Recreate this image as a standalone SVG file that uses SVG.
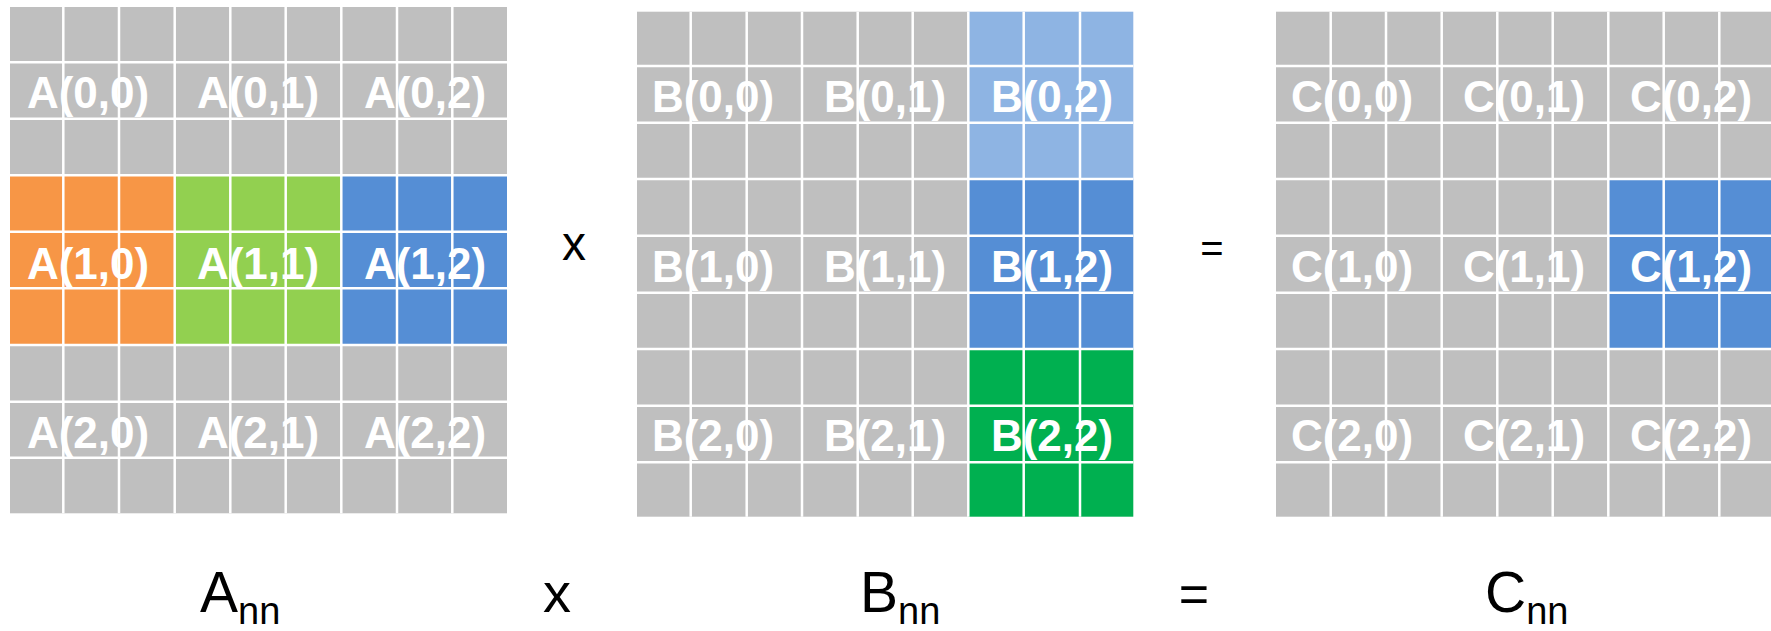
<svg xmlns="http://www.w3.org/2000/svg" width="1771" height="631" viewBox="0 0 1771 631">
<style>
.g{fill:#BFBFBF}
.or{fill:#F79646}
.lg{fill:#92D050}
.bl{fill:#558ED5}
.lb{fill:#8EB4E3}
.gr{fill:#00B050}
.lbl{font-family:"Liberation Sans",Arial,sans-serif;font-weight:bold;font-size:44px;fill:#FFFFFF;text-anchor:middle}
.grid line{stroke:#FFFFFF;stroke-width:2.5}
.cap{font-family:"Liberation Sans",Arial,sans-serif;font-size:57px;fill:#000000}
.op{font-family:"Liberation Sans",Arial,sans-serif;fill:#000000;text-anchor:middle}
</style>
<rect width="1771" height="631" fill="#FFFFFF"/>

<!-- Matrix A -->
<g id="matrixA">
<g id="A00"><rect class="g" x="10" y="7" width="164.7" height="168.3"/><text class="lbl" x="88" y="108">A(0,0)</text></g>
<g id="A01"><rect class="g" x="174.7" y="7" width="166.6" height="168.3"/><text class="lbl" x="258" y="108">A(0,1)</text></g>
<g id="A02"><rect class="g" x="341.3" y="7" width="165.7" height="168.3"/><text class="lbl" x="425" y="108">A(0,2)</text></g>
<g id="A10"><rect class="or" x="10" y="175.3" width="164.7" height="169.7"/><text class="lbl" x="88" y="279">A(1,0)</text></g>
<g id="A11"><rect class="lg" x="174.7" y="175.3" width="166.6" height="169.7"/><text class="lbl" x="258" y="279">A(1,1)</text></g>
<g id="A12"><rect class="bl" x="341.3" y="175.3" width="165.7" height="169.7"/><text class="lbl" x="425" y="279">A(1,2)</text></g>
<g id="A20"><rect class="g" x="10" y="345" width="164.7" height="168.3"/><text class="lbl" x="88" y="448">A(2,0)</text></g>
<g id="A21"><rect class="g" x="174.7" y="345" width="166.6" height="168.3"/><text class="lbl" x="258" y="448">A(2,1)</text></g>
<g id="A22"><rect class="g" x="341.3" y="345" width="165.7" height="168.3"/><text class="lbl" x="425" y="448">A(2,2)</text></g>
</g>

<!-- Matrix B -->
<g id="matrixB">
<g id="B00"><rect class="g" x="637" y="11.7" width="165" height="167.3"/><text class="lbl" x="713" y="112">B(0,0)</text></g>
<g id="B01"><rect class="g" x="802" y="11.7" width="166.3" height="167.3"/><text class="lbl" x="885" y="112">B(0,1)</text></g>
<g id="B02"><rect class="lb" x="968.3" y="11.7" width="165" height="167.3"/><text class="lbl" x="1052" y="112">B(0,2)</text></g>
<g id="B10"><rect class="g" x="637" y="179" width="165" height="170"/><text class="lbl" x="713" y="282">B(1,0)</text></g>
<g id="B11"><rect class="g" x="802" y="179" width="166.3" height="170"/><text class="lbl" x="885" y="282">B(1,1)</text></g>
<g id="B12"><rect class="bl" x="968.3" y="179" width="165" height="170"/><text class="lbl" x="1052" y="282">B(1,2)</text></g>
<g id="B20"><rect class="g" x="637" y="349" width="165" height="167.7"/><text class="lbl" x="713" y="451">B(2,0)</text></g>
<g id="B21"><rect class="g" x="802" y="349" width="166.3" height="167.7"/><text class="lbl" x="885" y="451">B(2,1)</text></g>
<g id="B22"><rect class="gr" x="968.3" y="349" width="165" height="167.7"/><text class="lbl" x="1052" y="451">B(2,2)</text></g>
</g>

<!-- Matrix C -->
<g id="matrixC">
<g id="C00"><rect class="g" x="1276" y="11.7" width="165.7" height="167.3"/><text class="lbl" x="1352" y="112">C(0,0)</text></g>
<g id="C01"><rect class="g" x="1441.7" y="11.7" width="166.6" height="167.3"/><text class="lbl" x="1524" y="112">C(0,1)</text></g>
<g id="C02"><rect class="g" x="1608.3" y="11.7" width="166" height="167.3"/><text class="lbl" x="1691" y="112">C(0,2)</text></g>
<g id="C10"><rect class="g" x="1276" y="179" width="165.7" height="170"/><text class="lbl" x="1352" y="282">C(1,0)</text></g>
<g id="C11"><rect class="g" x="1441.7" y="179" width="166.6" height="170"/><text class="lbl" x="1524" y="282">C(1,1)</text></g>
<g id="C12"><rect class="bl" x="1608.3" y="179" width="166" height="170"/><text class="lbl" x="1691" y="282">C(1,2)</text></g>
<g id="C20"><rect class="g" x="1276" y="349" width="165.7" height="167.7"/><text class="lbl" x="1352" y="451">C(2,0)</text></g>
<g id="C21"><rect class="g" x="1441.7" y="349" width="166.6" height="167.7"/><text class="lbl" x="1524" y="451">C(2,1)</text></g>
<g id="C22"><rect class="g" x="1608.3" y="349" width="166" height="167.7"/><text class="lbl" x="1691" y="451">C(2,2)</text></g>
</g>

<!-- white grid lines -->
<g id="connectors" class="grid">
<g id="gridA">
<line x1="63.3" y1="7" x2="63.3" y2="513.3"/><line x1="119" y1="7" x2="119" y2="513.3"/><line x1="174.7" y1="7" x2="174.7" y2="513.3"/><line x1="230.3" y1="7" x2="230.3" y2="513.3"/><line x1="285.7" y1="7" x2="285.7" y2="513.3"/><line x1="341.3" y1="7" x2="341.3" y2="513.3"/><line x1="397" y1="7" x2="397" y2="513.3"/><line x1="452.3" y1="7" x2="452.3" y2="513.3"/>
<line x1="10" y1="62.3" x2="507" y2="62.3"/><line x1="10" y1="118.7" x2="507" y2="118.7"/><line x1="10" y1="175.3" x2="507" y2="175.3"/><line x1="10" y1="231.7" x2="507" y2="231.7"/><line x1="10" y1="288.3" x2="507" y2="288.3"/><line x1="10" y1="345" x2="507" y2="345"/><line x1="10" y1="401.7" x2="507" y2="401.7"/><line x1="10" y1="457.7" x2="507" y2="457.7"/>
</g>
<g id="gridB">
<line x1="690.7" y1="11.7" x2="690.7" y2="516.7"/><line x1="746.7" y1="11.7" x2="746.7" y2="516.7"/><line x1="802" y1="11.7" x2="802" y2="516.7"/><line x1="857.7" y1="11.7" x2="857.7" y2="516.7"/><line x1="912.7" y1="11.7" x2="912.7" y2="516.7"/><line x1="968.3" y1="11.7" x2="968.3" y2="516.7"/><line x1="1023.7" y1="11.7" x2="1023.7" y2="516.7"/><line x1="1080" y1="11.7" x2="1080" y2="516.7"/>
<line x1="637" y1="66" x2="1133.3" y2="66"/><line x1="637" y1="122.7" x2="1133.3" y2="122.7"/><line x1="637" y1="179" x2="1133.3" y2="179"/><line x1="637" y1="235.7" x2="1133.3" y2="235.7"/><line x1="637" y1="292.7" x2="1133.3" y2="292.7"/><line x1="637" y1="349" x2="1133.3" y2="349"/><line x1="637" y1="405.7" x2="1133.3" y2="405.7"/><line x1="637" y1="462.3" x2="1133.3" y2="462.3"/>
</g>
<g id="gridC">
<line x1="1330.7" y1="11.7" x2="1330.7" y2="516.7"/><line x1="1386" y1="11.7" x2="1386" y2="516.7"/><line x1="1441.7" y1="11.7" x2="1441.7" y2="516.7"/><line x1="1497.3" y1="11.7" x2="1497.3" y2="516.7"/><line x1="1552.7" y1="11.7" x2="1552.7" y2="516.7"/><line x1="1608.3" y1="11.7" x2="1608.3" y2="516.7"/><line x1="1663.7" y1="11.7" x2="1663.7" y2="516.7"/><line x1="1719.3" y1="11.7" x2="1719.3" y2="516.7"/>
<line x1="1276" y1="66" x2="1771" y2="66"/><line x1="1276" y1="122.7" x2="1771" y2="122.7"/><line x1="1276" y1="179" x2="1771" y2="179"/><line x1="1276" y1="235.7" x2="1771" y2="235.7"/><line x1="1276" y1="292.7" x2="1771" y2="292.7"/><line x1="1276" y1="349" x2="1771" y2="349"/><line x1="1276" y1="405.7" x2="1771" y2="405.7"/><line x1="1276" y1="462.3" x2="1771" y2="462.3"/>
</g>
</g>

<!-- operators between matrices -->
<g id="opX"><text class="op" x="574" y="260" font-size="48">x</text></g>
<g id="opEq"><text class="op" x="1212" y="262" font-size="40">=</text></g>

<!-- captions -->
<g id="capA"><text class="cap" x="200" y="612">A<tspan font-size="38" dy="12">nn</tspan></text></g>
<g id="capX"><text class="op" x="557" y="612" font-size="56">x</text></g>
<g id="capB"><text class="cap" x="860" y="612">B<tspan font-size="38" dy="12">nn</tspan></text></g>
<g id="capEq"><text class="op" x="1194" y="612" font-size="52">=</text></g>
<g id="capC"><text class="cap" x="1485" y="612">C<tspan font-size="38" dy="12">nn</tspan></text></g>
</svg>
